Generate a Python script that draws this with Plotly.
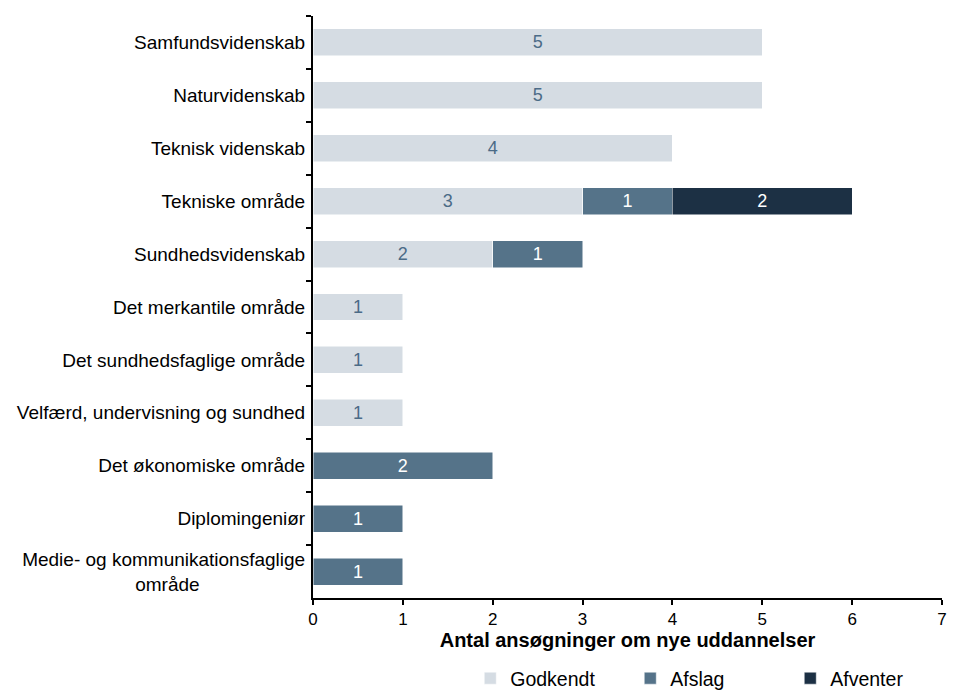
import plotly.graph_objects as go

categories = [
    "Samfundsvidenskab",
    "Naturvidenskab",
    "Teknisk videnskab",
    "Tekniske område",
    "Sundhedsvidenskab",
    "Det merkantile område",
    "Det sundhedsfaglige område",
    "Velfærd, undervisning og sundhed",
    "Det økonomiske område",
    "Diplomingeniør",
    "Medie- og kommunikationsfaglige<br>område" + "\u00a0" * 20,
]
godkendt = [5, 5, 4, 3, 2, 1, 1, 1, None, None, None]
afslag = [None, None, None, 1, 1, None, None, None, 2, 1, 1]
afventer = [None, None, None, 2, None, None, None, None, None, None, None]

series = [
    ("Godkendt", godkendt, "#D5DCE3", "#4B6B87"),
    ("Afslag", afslag, "#557389", "white"),
    ("Afventer", afventer, "#1C3044", "white"),
]

FONT = "Liberation Sans, Arial"

fig = go.Figure()
for name, vals, color, txtcolor in series:
    fig.add_trace(
        go.Bar(
            y=categories,
            x=vals,
            name=name,
            orientation="h",
            marker={"color": color, "line": {"color": "white", "width": 0.5}},
            text=vals,
            textposition="inside",
            insidetextanchor="middle",
            textfont={"color": txtcolor, "size": 18, "family": FONT},
        )
    )

# the page body adds an 8px margin, so the figure is 8px smaller on each side
fig.update_layout(
    barmode="stack",
    bargap=0.49,
    width=948,
    height=690,
    plot_bgcolor="white",
    paper_bgcolor="white",
    font={"family": FONT, "size": 19, "color": "black"},
    margin={"l": 305, "r": 14, "t": 8, "b": 100},
    showlegend=True,
    legend={
        "orientation": "h",
        "x": 0.25,
        "xanchor": "left",
        "yref": "container",
        "y": -0.007,
        "yanchor": "bottom",
        "font": {"size": 19.5},
        "entrywidth": 115,
        "traceorder": "normal",
    },
    uniformtext={"mode": "show", "minsize": 18},
)
fig.update_xaxes(
    range=[0, 7],
    dtick=1,
    showgrid=False,
    zeroline=False,
    showline=True,
    linecolor="black",
    linewidth=2,
    ticks="outside",
    ticklen=5,
    tickwidth=2,
    tickcolor="black",
    tickfont={"size": 17},
    ticklabeloverflow="allow",
    automargin=False,
    title={"text": "<b>Antal ansøgninger om nye uddannelser</b>", "font": {"size": 20}, "standoff": 3},
)
fig.update_yaxes(
    autorange="reversed",
    showgrid=False,
    showline=True,
    linecolor="black",
    linewidth=2,
    ticks="outside",
    tickson="boundaries",
    ticklen=5,
    tickwidth=2,
    tickcolor="black",
    ticklabelstandoff=2,
    automargin=False,
)

fig.write_html("out.html")
